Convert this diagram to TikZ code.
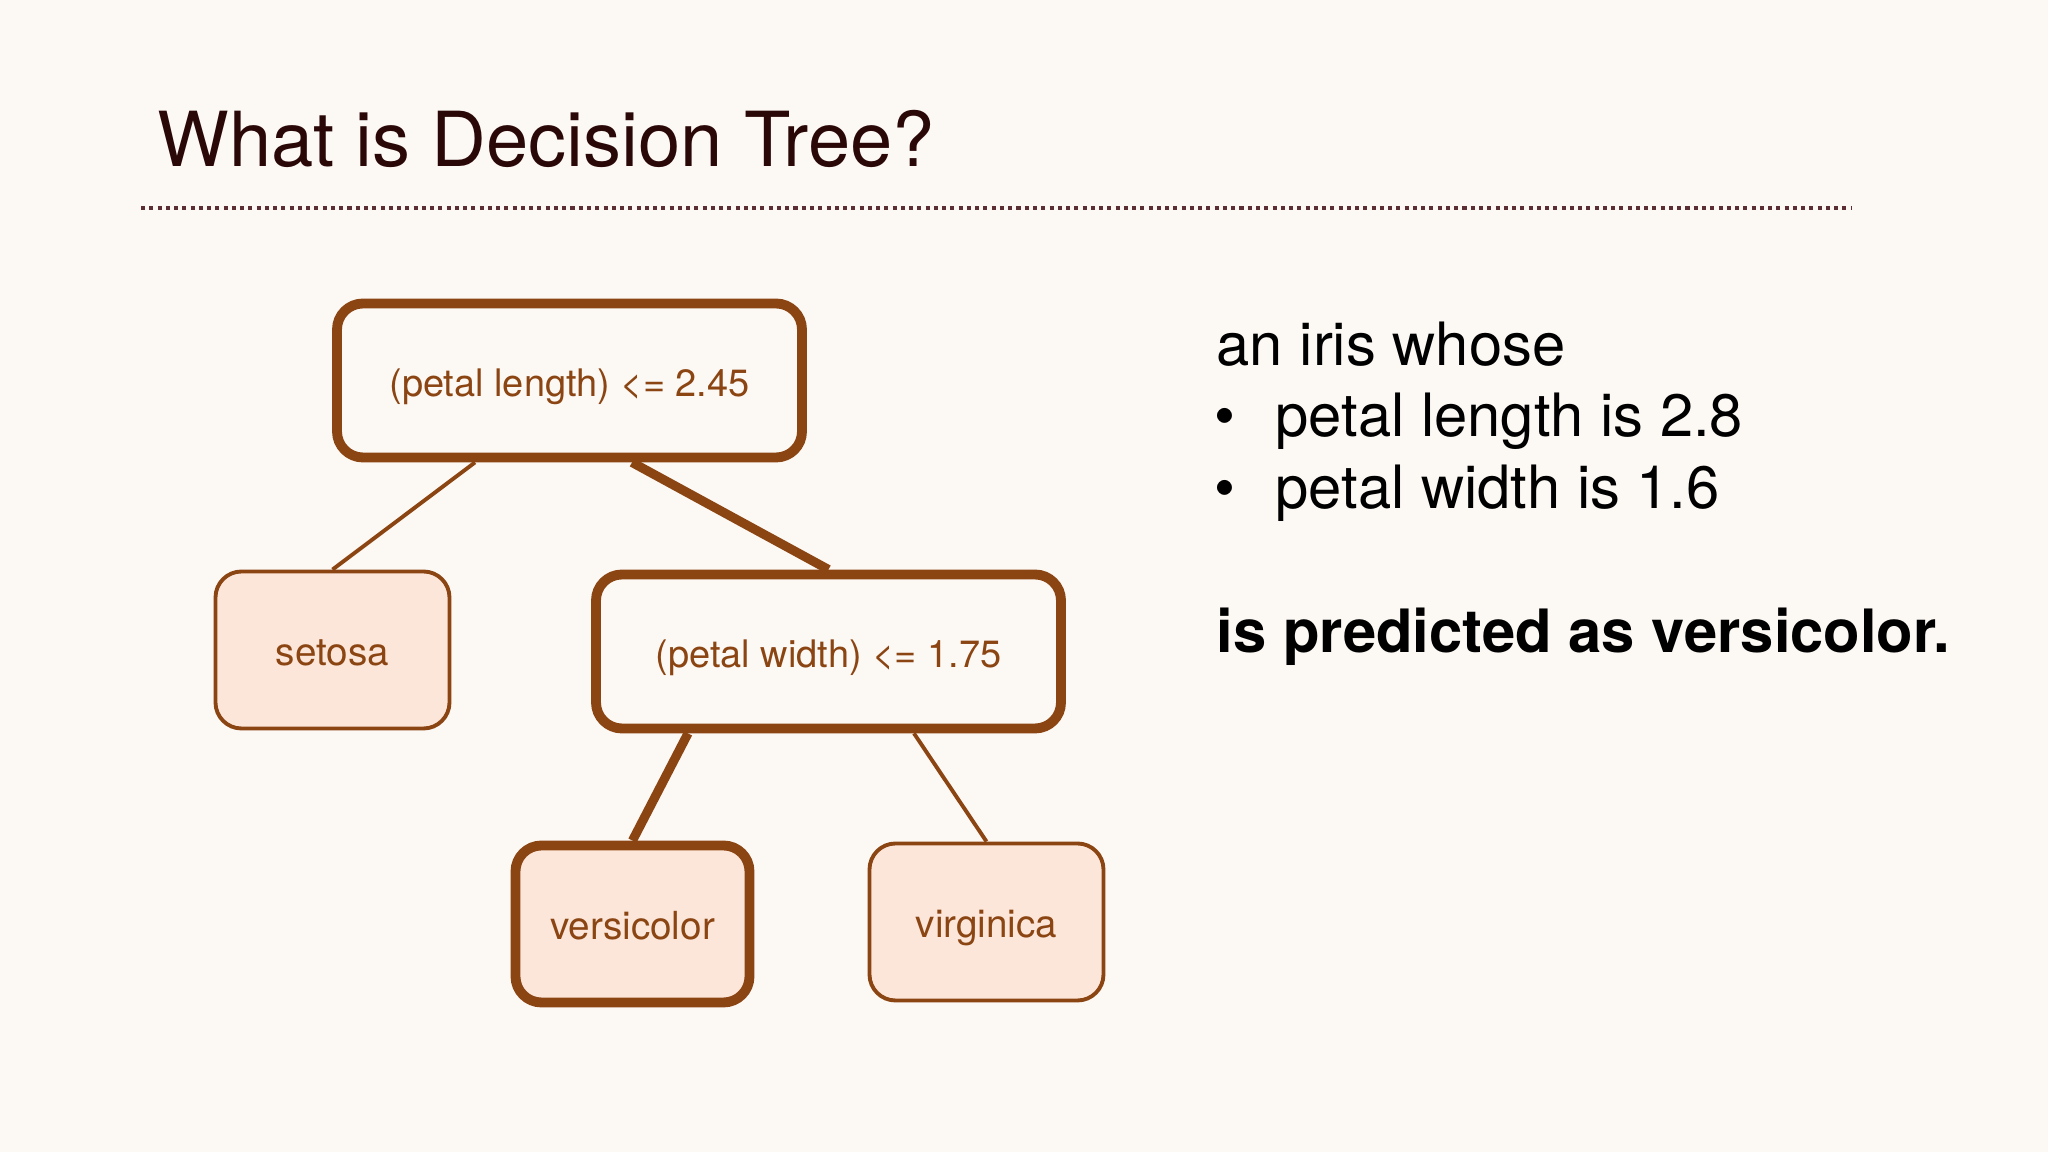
\documentclass[tikz,border=0pt]{standalone}
\usepackage{fontspec}
\setmainfont{TeX Gyre Heros}
\usepackage{xcolor}
\usepackage{tikz}
\usetikzlibrary{calc}

\definecolor{slidebg}{HTML}{FCF8F4}
\definecolor{treebrown}{HTML}{8B4513}
\definecolor{leaffill}{HTML}{FCE6DA}
\definecolor{titlecol}{HTML}{2A0808}
\definecolor{rulecol}{HTML}{5A2E32}

\begin{document}
\begin{tikzpicture}[
    splitbox/.style={draw=treebrown, line width=2.8pt, rounded corners=0.26cm, fill=slidebg,
        minimum width=4.65cm, minimum height=1.54cm, text=treebrown, font=\fontsize{10.8}{13}\selectfont,
        text height=9.2pt, text depth=0.2pt},
    leafbox/.style={draw=treebrown, line width=1.1pt, rounded corners=0.26cm, fill=leaffill,
        minimum width=2.34cm, minimum height=1.57cm, text=treebrown, font=\fontsize{11}{13}\selectfont,
        text height=9.3pt, text depth=0.2pt},
    chosen/.style={line width=2.8pt},
    thinedge/.style={treebrown, line width=1.1pt},
    thickedge/.style={treebrown, line width=2.6pt}]
    % Slide background
    \fill[slidebg] (0,0) rectangle (20.48,11.52);
    \useasboundingbox (0,0) rectangle (20.48,11.52);

    % Title and dotted rule
    \node[anchor=base west, inner sep=0pt, text=titlecol, font=\fontsize{21.6}{26}\selectfont] (title) at (1.57,9.85) {What is Decision Tree?};
    \coordinate (ruleL) at (1.41,9.44);
    \coordinate (ruleR) at (18.52,9.44);
    \draw[rulecol, line width=1.15pt, dash pattern=on 1.15pt off 1.2pt] (ruleL) -- (ruleR);

    % Tree
    \node[splitbox] (root) at (5.695,7.715) {(petal length) <= 2.45};
    \node[leafbox] (setosa) at (3.325,5.02) {setosa};
    \node[splitbox] (width) at (8.285,5.005) {(petal width) <= 1.75};
    \node[leafbox, chosen] (versicolor) at (6.325,2.28) {versicolor};
    \node[leafbox] (virginica) at (9.865,2.30) {virginica};

    \draw[thinedge] ([xshift=-0.945cm]root.south) -- (setosa.north);
    \draw[thickedge] ([xshift=0.625cm]root.south) -- (width.north);
    \draw[thickedge] ([xshift=-1.405cm]width.south) -- (versicolor.north);
    \draw[thinedge] ([xshift=0.855cm]width.south) -- (virginica.north);

    % Example iris
    \begin{scope}[font=\fontsize{17}{20}\selectfont]
        \node[anchor=base west, inner sep=0pt] (iris) at (12.16,7.86) {an iris whose};
        \node[anchor=base, inner sep=0pt] (dotA) at (12.25,7.15) {\textbullet};
        \node[anchor=base west, inner sep=0pt] (lenA) at (12.75,7.15) {petal length is 2.8};
        \node[anchor=base, inner sep=0pt] (dotB) at (12.25,6.43) {\textbullet};
        \node[anchor=base west, inner sep=0pt] (widB) at (12.75,6.43) {petal width is 1.6};
        \node[anchor=base west, inner sep=0pt] (verdict) at (12.16,4.99) {\bfseries is predicted as versicolor.};
    \end{scope}
\end{tikzpicture}
\end{document}
